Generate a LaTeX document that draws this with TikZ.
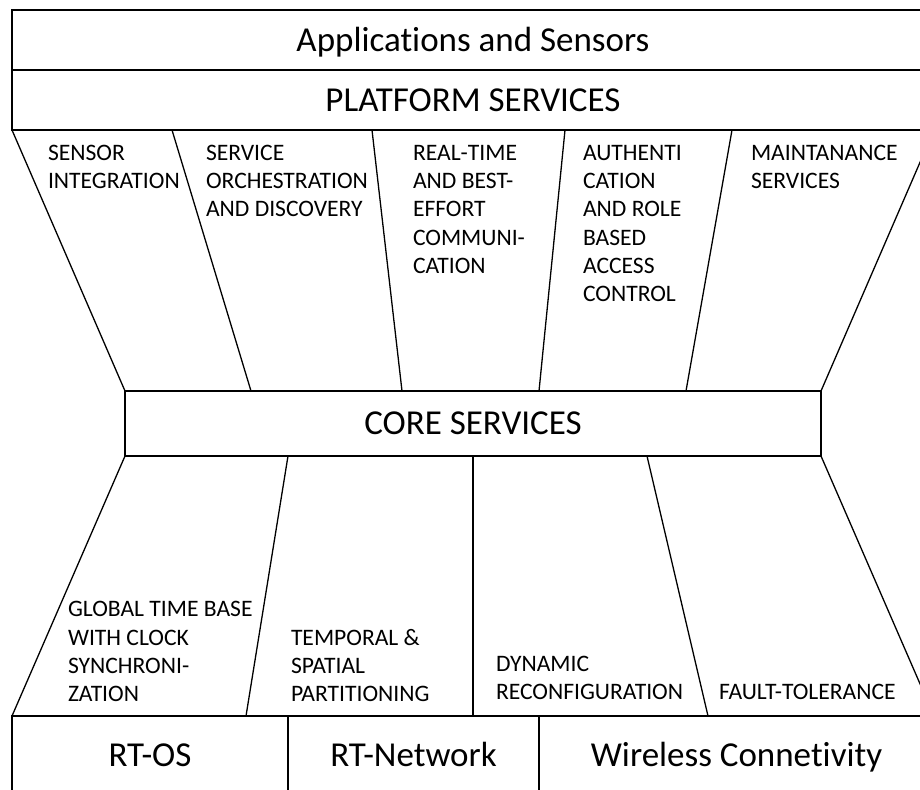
\documentclass[tikz,border=0pt]{standalone}
\usepackage{fontspec}
\setmainfont{Carlito}[Ligatures={NoCommon}]
\begin{document}
\begin{tikzpicture}[x=1pt,y=-1pt,
  box/.style={draw, line width=1.6pt, inner sep=0pt, outer sep=0pt, rectangle},
  big/.style={font=\fontsize{35}{42}\selectfont, text height=22.5pt, text depth=0pt},
  small/.style={font=\fontsize{23.6}{28.3}\selectfont, align=left, inner sep=0pt, outer sep=0pt},
  div/.style={line width=1.3pt}]
\useasboundingbox (0,0) rectangle (920,789);
\clip (0,0) rectangle (920,789);
% boxes
\node[box, big, minimum width=922pt, minimum height=60pt] (app) at (473,40) {Applications and Sensors};
\node[box, big, minimum width=922pt, minimum height=60pt] (plat) at (473,100) {PLATFORM SERVICES};
\node[box, big, minimum width=696pt, minimum height=65pt] (core) at (473,423.5) {CORE SERVICES};
\node[box, big, minimum width=276pt, minimum height=78pt] (rtos) at (150,755) {RT-OS};
\node[box, big, minimum width=251pt, minimum height=78pt] (rtnet) at (413.5,755) {RT-Network};
\node[box, big, minimum width=395pt, minimum height=78pt] (wless) at (736.5,755) {Wireless Connetivity};
% upper dividers
\coordinate (u2t) at (172,130);  \coordinate (u2b) at (251,391);
\coordinate (u3t) at (372,130);  \coordinate (u3b) at (402,391);
\coordinate (u4t) at (565,130);  \coordinate (u4b) at (539,391);
\coordinate (u5t) at (732,130);  \coordinate (u5b) at (686,391);
\draw[div] (plat.south west) -- (core.north west);
\draw[div] (u2t) -- (u2b);
\draw[div] (u3t) -- (u3b);
\draw[div] (u4t) -- (u4b);
\draw[div] (u5t) -- (u5b);
\draw[div] (plat.south east) -- (core.north east);
% lower dividers
\coordinate (l2t) at (288,456);  \coordinate (l2b) at (246,716);
\coordinate (l3t) at (473,456);  \coordinate (l3b) at (473,716);
\coordinate (l4t) at (647,456);  \coordinate (l4b) at (708,716);
\draw[div] (core.south west) -- (rtos.north west);
\draw[div] (l2t) -- (l2b);
\draw[div] (l3t) -- (l3b);
\draw[div] (l4t) -- (l4b);
\draw[div] (core.south east) -- (wless.north east);
% upper labels
\node[small, anchor=north west] (sensor) at (48,145) {SENSOR\\INTEGRATION};
\node[small, anchor=north west] (orch) at (206,145) {SERVICE\\ORCHESTRATION\\AND DISCOVERY};
\node[small, anchor=north west] (comm) at (413,145) {REAL-TIME\\AND BEST-\\EFFORT\\COMMUNI-\\CATION};
\node[small, anchor=north west] (auth) at (583,145) {AUTHENTI\\CATION\\AND ROLE\\BASED\\ACCESS\\CONTROL};
\node[small, anchor=north west] (maint) at (751,145) {MAINTANANCE\\SERVICES};
% lower labels
\node[small, anchor=south west] (time) at (68,702) {GLOBAL TIME BASE\\WITH CLOCK\\SYNCHRONI-\\ZATION};
\node[small, anchor=south west] (part) at (291,702) {TEMPORAL \&\\SPATIAL\\PARTITIONING};
\node[small, anchor=south west] (reconf) at (496,700) {DYNAMIC\\RECONFIGURATION};
\node[small, anchor=south west] (fault) at (719,700) {FAULT-TOLERANCE};
\end{tikzpicture}
\end{document}
